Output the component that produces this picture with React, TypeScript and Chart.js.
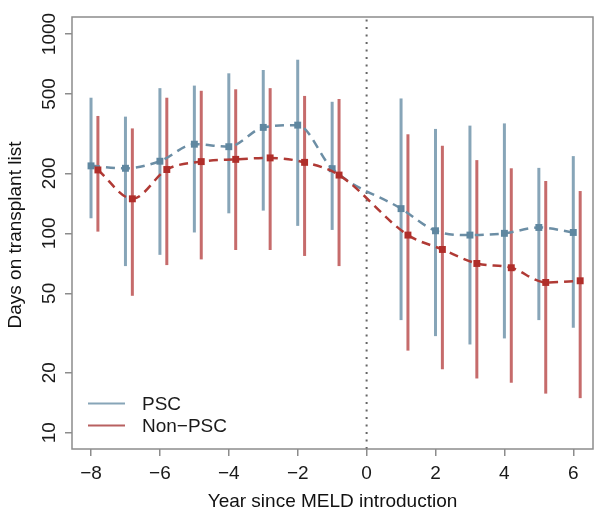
import React, { useEffect, useRef } from 'react';
import { Chart, registerables } from 'chart.js';

Chart.register(...registerables);

// ---- data ----
const years = [-8, -7, -6, -5, -4, -3, -2, -1, 1, 2, 3, 4, 5, 6];
const nonPscOffset = 0.2;

const pscMedian = [218, 212, 230, 280, 272, 340, 349, 211, 133, 103, 98, 100, 107, 101];
const pscLower = [119, 68.5, 78, 101, 126, 130, 109, 104, 36.7, 30.5, 27.7, 29.7, 36.7, 33.6];
const pscUpper = [479, 385, 535, 551, 635, 660, 743, 457, 475, 334, 347, 356, 213, 244];

const nonPscMedian = [208, 149, 209, 229, 235, 239, 227, 196, 98, 83, 70.6, 67.2, 56.7, 57.8];
const nonPscLower = [102, 48.6, 69.3, 74, 82.5, 82.5, 77, 68.5, 25.8, 20.8, 18.7, 17.8, 15.7, 14.9];
const nonPscUpper = [388, 336, 479, 519, 528, 535, 489, 472, 314, 275, 233, 212, 183, 163];

const xTicks = [-8, -6, -4, -2, 0, 2, 4, 6];
const yTicks = [10, 20, 50, 100, 200, 500, 1000];
const legendLabels = ['PSC', 'Non\u2212PSC'];
const xTitle = 'Year since MELD introduction';
const yTitle = 'Days on transplant list';
const meldYear = 0;

const X_MIN = -8.552;
const X_MAX = 6.572;
const Y_MIN = 8.28;
const Y_MAX = 1217;

// ---- styles ----
const FONT = '"Liberation Sans", Arial, Helvetica, sans-serif';
const PSC_MARK = '#5f87a0';
const PSC_LINE = '#6c8ea5';
const PSC_BAR = 'rgba(95,135,160,0.75)';
const NON_MARK = '#b02e2a';
const NON_LINE = '#b03a35';
const NON_BAR = 'rgba(176,50,50,0.72)';
const AXIS_GRAY = '#8c8c8c';

const fmt = (v: number) => (v < 0 ? '\u2212' + Math.abs(v) : String(v));

const textPlugin = {
  id: 'rText',
  afterDraw(chart: any) {
    const { ctx, chartArea: ca } = chart;
    const x = chart.scales.x;
    const y = chart.scales.y;
    ctx.save();
    // box
    ctx.strokeStyle = AXIS_GRAY;
    ctx.lineWidth = 1.5;
    ctx.strokeRect(ca.left, ca.top, ca.right - ca.left, ca.bottom - ca.top);

    ctx.fillStyle = '#1a1a1a';
    ctx.font = `19px ${FONT}`;
    ctx.textBaseline = 'alphabetic';
    ctx.textAlign = 'center';
    // x tick labels
    xTicks.forEach((v) => {
      ctx.fillText(fmt(v), x.getPixelForValue(v), ca.bottom + 29.5);
    });
    // y tick labels (rotated)
    yTicks.forEach((v) => {
      const py = y.getPixelForValue(v);
      ctx.save();
      ctx.translate(ca.left - 17.5, py);
      ctx.rotate(-Math.PI / 2);
      ctx.fillText(String(v), 0, 0);
      ctx.restore();
    });
    // axis titles
    ctx.fillStyle = '#111';
    ctx.fillText(xTitle, (ca.left + ca.right) / 2, ca.bottom + 58.3);
    ctx.save();
    ctx.translate(21, (ca.top + ca.bottom) / 2 + 2);
    ctx.rotate(-Math.PI / 2);
    ctx.fillText(yTitle, 0, 0);
    ctx.restore();

    // legend
    const legendColors = ['#87a5b8', '#b86060'];
    const ly = [403.5, 425.5];
    ctx.textAlign = 'left';
    legendLabels.forEach((lab, i) => {
      ctx.strokeStyle = legendColors[i];
      ctx.lineWidth = 2;
      ctx.beginPath();
      ctx.moveTo(ca.left + 16, ly[i]);
      ctx.lineTo(ca.left + 53, ly[i]);
      ctx.stroke();
      ctx.fillStyle = '#1a1a1a';
      ctx.fillText(lab, ca.left + 70, ly[i] + 6.8);
    });
    ctx.restore();
  },
};

export default function App() {
  const ref = useRef<HTMLCanvasElement | null>(null);

  useEffect(() => {
    if (!ref.current) return;
    const nonX = years.map((v) => v + nonPscOffset);
    const chart = new Chart(ref.current, {
      type: 'line',
      data: {
        datasets: [
          {
            type: 'line',
            label: 'meld',
            data: [
              { x: meldYear, y: Y_MIN },
              { x: meldYear, y: Y_MAX },
            ],
            borderColor: '#666',
            borderWidth: 2,
            borderDash: [2, 5.5],
            pointRadius: 0,
            order: 5,
          } as any,
          {
            type: 'bar',
            label: 'PSC range',
            data: years.map((v, i) => ({ x: v, y: [pscLower[i], pscUpper[i]] })),
            backgroundColor: PSC_BAR,
            borderWidth: 0,
            grouped: false,
            maxBarThickness: 3,
            order: 4,
          } as any,
          {
            type: 'bar',
            label: 'Non-PSC range',
            data: nonX.map((v, i) => ({ x: v, y: [nonPscLower[i], nonPscUpper[i]] })),
            backgroundColor: NON_BAR,
            borderWidth: 0,
            grouped: false,
            maxBarThickness: 3,
            order: 3,
          } as any,
          {
            type: 'line',
            label: 'PSC',
            data: years.map((v, i) => ({ x: v, y: pscMedian[i] })),
            borderColor: PSC_LINE,
            borderWidth: 2.5,
            borderDash: [9, 6],
            cubicInterpolationMode: 'monotone',
            pointStyle: 'rect',
            pointRadius: 4.9,
            pointBackgroundColor: PSC_MARK,
            pointBorderWidth: 0,
            fill: false,
            order: 2,
          } as any,
          {
            type: 'line',
            label: 'Non-PSC',
            data: nonX.map((v, i) => ({ x: v, y: nonPscMedian[i] })),
            borderColor: NON_LINE,
            borderWidth: 2.5,
            borderDash: [9, 6],
            cubicInterpolationMode: 'monotone',
            pointStyle: 'rect',
            pointRadius: 4.9,
            pointBackgroundColor: NON_MARK,
            pointBorderWidth: 0,
            fill: false,
            order: 1,
          } as any,
        ],
      },
      options: {
        responsive: false,
        animation: false,
        events: [],
        layout: { padding: { top: 17, right: 9, left: 0, bottom: 0 } },
        plugins: {
          legend: { display: false },
          tooltip: { enabled: false },
          title: { display: false },
        },
        scales: {
          x: {
            type: 'linear',
            min: X_MIN,
            max: X_MAX,
            offset: false,
            grid: {
              display: true,
              drawOnChartArea: false,
              drawTicks: true,
              tickLength: 7,
              color: AXIS_GRAY,
              lineWidth: 1.5,
              offset: false,
            },
            border: { display: false },
            ticks: { display: false },
            afterBuildTicks: (s: any) => {
              s.ticks = xTicks.map((v) => ({ value: v }));
            },
            afterFit: (s: any) => {
              s.height = 70;
            },
          },
          y: {
            type: 'logarithmic',
            min: Y_MIN,
            max: Y_MAX,
            grid: {
              display: true,
              drawOnChartArea: false,
              drawTicks: true,
              tickLength: 7,
              color: AXIS_GRAY,
              lineWidth: 1.5,
            },
            border: { display: false },
            ticks: { display: false },
            afterBuildTicks: (s: any) => {
              s.ticks = yTicks.map((v) => ({ value: v }));
            },
            afterFit: (s: any) => {
              s.width = 72;
            },
          },
        },
      } as any,
      plugins: [textPlugin],
    });
    return () => chart.destroy();
  }, []);

  return (
    <div style={{ position: 'absolute', left: 0, top: 0, width: 602, height: 519, background: '#fff' }}>
      <canvas ref={ref} width={602} height={519} style={{ display: 'block', width: 602, height: 519 }} />
    </div>
  );
}
